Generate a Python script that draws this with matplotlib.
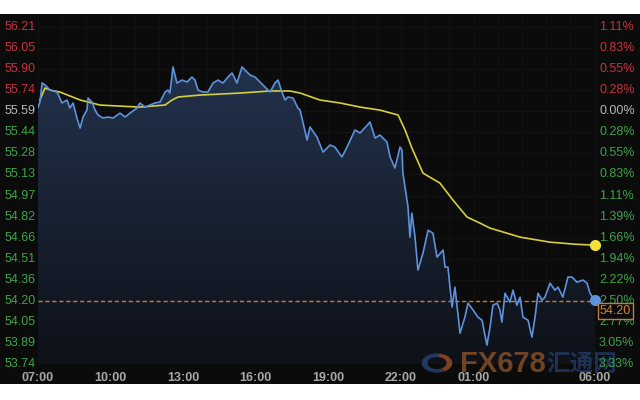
import numpy as np
import matplotlib
matplotlib.use('Agg')
import matplotlib.pyplot as plt
import matplotlib.transforms as mtransforms
from matplotlib.patches import Rectangle, Wedge
from matplotlib.colors import LinearSegmentedColormap

###########################################################
###              Data
###########################################################
# hours after 07:00
blue_hours = [0.0, 0.08, 0.17, 0.29, 0.50, 0.79, 0.99, 1.20, 1.32, 1.45, 1.61, 1.74, 1.86,
              2.02, 2.07, 2.23, 2.36, 2.48, 2.69, 2.89, 3.10, 3.39, 3.60, 3.80, 4.09, 4.21,
              4.42, 4.63, 4.83, 5.04, 5.25, 5.37, 5.45, 5.58, 5.74, 5.95, 6.16, 6.36, 6.49,
              6.61, 6.82, 7.02, 7.23, 7.44, 7.64, 7.85, 8.02, 8.22, 8.43, 8.55, 8.76, 8.97,
              9.17, 9.38, 9.59, 9.79, 9.92, 10.08, 10.21, 10.33, 10.54, 10.74, 10.83, 11.12,
              11.24, 11.53, 11.78, 12.07, 12.27, 12.56, 12.77, 13.10, 13.31, 13.72, 13.93,
              14.13, 14.42, 14.55, 14.75, 14.96, 15.04, 15.08, 15.29, 15.37, 15.45, 15.58,
              15.70, 15.91, 16.12, 16.32, 16.49, 16.74, 16.82, 16.94, 17.11, 17.23, 17.44,
              17.64, 17.77, 17.98, 18.18, 18.35, 18.55, 18.68, 18.80, 18.97, 19.09, 19.17,
              19.30, 19.50, 19.63, 19.79, 19.92, 20.04, 20.25, 20.41, 20.54, 20.66, 20.83,
              20.95, 21.16, 21.36, 21.49, 21.69, 21.90, 22.07, 22.27, 22.52, 22.69, 22.81, 23.0]
blue_price = [55.62, 55.66, 55.80, 55.785, 55.748, 55.733, 55.653, 55.675, 55.616, 55.653,
              55.543, 55.469, 55.550, 55.601, 55.689, 55.660, 55.601, 55.565, 55.543, 55.550,
              55.543, 55.579, 55.550, 55.579, 55.616, 55.653, 55.623, 55.638, 55.653, 55.660,
              55.733, 55.748, 55.726, 55.917, 55.799, 55.821, 55.807, 55.843, 55.821, 55.748,
              55.733, 55.733, 55.799, 55.821, 55.799, 55.843, 55.873, 55.799, 55.917, 55.895,
              55.858, 55.843, 55.807, 55.770, 55.733, 55.799, 55.821, 55.733, 55.675, 55.697,
              55.689, 55.616, 55.601, 55.381, 55.477, 55.403, 55.293, 55.345, 55.330, 55.257,
              55.330, 55.455, 55.433, 55.513, 55.396, 55.418, 55.367, 55.257, 55.176, 55.330,
              55.308, 55.139, 54.890, 54.670, 54.846, 54.670, 54.428, 54.553, 54.721, 54.699,
              54.523, 54.575, 54.450, 54.450, 54.157, 54.303, 53.966, 54.083, 54.186, 54.135,
              54.083, 54.061, 53.878, 54.010, 54.171, 54.186, 54.135, 54.047, 54.259, 54.193,
              54.281, 54.171, 54.230, 54.083, 54.061, 53.937, 54.083, 54.259, 54.208, 54.230,
              54.333, 54.281, 54.303, 54.230, 54.377, 54.377, 54.340, 54.355, 54.333, 54.259,
              54.21]

yellow_hours = [0.08, 0.29, 0.50, 0.91, 1.74, 2.56, 3.39, 4.21, 5.25, 5.54, 5.79, 6.69, 8.35,
                9.59, 10.41, 10.83, 11.65, 12.48, 13.31, 14.13, 14.88, 15.17, 15.45, 15.91,
                16.61, 17.15, 17.73, 18.26, 18.68, 19.92, 21.16, 22.19, 23.0]
yellow_price = [55.675, 55.763, 55.748, 55.733, 55.675, 55.638, 55.630, 55.623, 55.638, 55.675,
                55.697, 55.711, 55.726, 55.741, 55.741, 55.726, 55.675, 55.653, 55.623, 55.601,
                55.565, 55.455, 55.323, 55.139, 55.066, 54.941, 54.817, 54.773, 54.736, 54.670,
                54.633, 54.618, 54.611]

left_labels = ['56.21', '56.05', '55.90', '55.74', '55.59', '55.44', '55.28', '55.13', '54.97',
               '54.82', '54.66', '54.51', '54.36', '54.20', '54.05', '53.89', '53.74']
right_labels = ['1.11%', '0.83%', '0.55%', '0.28%', '0.00%', '0.28%', '0.55%', '0.83%', '1.11%',
                '1.39%', '1.66%', '1.94%', '2.22%', '2.50%', '2.77%', '3.05%', '3.33%']
time_ticks = [0, 3, 6, 9, 12, 15, 18, 23]
time_labels = ['07:00', '10:00', '13:00', '16:00', '19:00', '22:00', '01:00', '06:00']
last_price = 54.20
ref_index = 4  # 55.59 == 0.00%

###########################################################
###              Plot
###########################################################
Y_TOP = 56.21
Y_BOT = 53.74
STEP = (Y_TOP - Y_BOT) / (len(left_labels) - 1)

fig = plt.figure(figsize=(6.4, 4.0), dpi=100)
fig.patch.set_facecolor('white')
fig.patches.append(Rectangle((0, 16/400), 1, (386-16)/400, transform=fig.transFigure,
                             facecolor='#0b0b0b', edgecolor='none', zorder=-5))

ax = fig.add_axes([38/640, 36/400, (597-38)/640, (386-36)/400])
ax.set_facecolor('none')
ax.set_xlim(0, 23.1)
ax.set_ylim(Y_BOT, Y_TOP + 13 * STEP / 21.06)
for s in ax.spines.values():
    s.set_visible(False)
ax.set_xticks([])
ax.set_yticks([])

# faint grid
for i in range(len(left_labels)):
    ax.axhline(Y_TOP - i*STEP, color='#151515', lw=0.6, zorder=1)
for h in range(0, 24):
    ax.axvline(h, color='#131313', lw=0.6, zorder=1)
ax.axhline(Y_BOT, color='#3a3a3a', lw=1.0, zorder=2)

# gradient fill under the price line
bx = np.array(blue_hours)
by = np.array(blue_price)
poly = ax.fill_between(bx, by, Y_BOT, color='none', lw=0)
grad = np.linspace(1, 0, 256).reshape(-1, 1)
cmap = LinearSegmentedColormap.from_list('g', ['#0e1118', '#22324c'])
img = ax.imshow(grad, cmap=cmap, aspect='auto', extent=[0, 23.1, Y_BOT, max(blue_price)],
                origin='upper', zorder=2)
img.set_clip_path(poly.get_paths()[0], transform=ax.transData)
ax.set_xlim(0, 23.1)
ax.set_ylim(Y_BOT, Y_TOP + 13 * STEP / 21.06)

# watermark (under the labels)
tb = mtransforms.blended_transform_factory(ax.transData, fig.transFigure)
tf = fig.transFigure
ax.text(460/640, 36/400, 'FX678', transform=tf, ha='left', va='center', color='#9a5a2a',
        alpha=0.7, fontsize=21, fontweight='bold', family='Liberation Sans', zorder=2.5,
        clip_on=False)
ax.text(546/640, 36/400, '汇通网', transform=tf, ha='left', va='center', color='#2c4a80',
        alpha=0.6, fontsize=17, fontweight='bold', family=['Noto Sans CJK SC', 'DejaVu Sans'],
        zorder=2.5, clip_on=False)
ax.add_patch(Wedge((437/640, 37/400), 0.024, 80, 300, width=0.009, transform=tf,
                   facecolor='#2c4a80', alpha=0.7, zorder=2.5, clip_on=False))
ax.add_patch(Wedge((437/640, 37/400), 0.024, 300, 440, width=0.009, transform=tf,
                   facecolor='#b0562a', alpha=0.7, zorder=2.5, clip_on=False))

ax.plot(bx, by, color='#5d93dc', lw=1.2, zorder=4)
ax.plot(yellow_hours, yellow_price, color='#d6cf3c', lw=1.2, zorder=3)
ax.axhline(last_price, color='#c87a3c', lw=1.0, ls=(0, (3, 2)), zorder=3)
ax.plot(blue_hours[-1], blue_price[-1], 'o', color='#5d93dc', ms=7, zorder=5, clip_on=False)
ax.plot(yellow_hours[-1], yellow_price[-1], 'o', color='#f2e23a', ms=7, zorder=5, clip_on=False)

# axis labels
font = 'Liberation Sans'
tl = mtransforms.blended_transform_factory(fig.transFigure, ax.transData)
for i, (lab, rlab) in enumerate(zip(left_labels, right_labels)):
    y = Y_TOP - i*STEP
    if i < ref_index:
        c = '#c8313c'
    elif i == ref_index:
        c = '#b8b8b8'
    else:
        c = '#3da34a'
    ax.text(36/640, y, lab, transform=tl, ha='right', va='center', color=c,
            fontsize=9, family=font, zorder=6, clip_on=False)
    ax.text(599/640, y, rlab, transform=tl, ha='left', va='center', color=c,
            fontsize=9, family=font, zorder=6, clip_on=False)

for h, lab in zip(time_ticks, time_labels):
    ax.text(h, 22/400, lab, transform=tb, ha='center', va='center', color='#a8a8a8',
            fontsize=9, fontweight='bold', family=font, zorder=6, clip_on=False)

# last price box
ax.text(600/640, last_price - 0.07, '%.2f' % last_price, transform=tl, ha='left', va='center',
        color='#d0843c', fontsize=9, family=font, zorder=7, clip_on=False,
        bbox=dict(boxstyle='square,pad=0.15', fc='#0b0b0b', ec='#c87a3c', lw=1.0))

fig.savefig('out.png', dpi=100)
